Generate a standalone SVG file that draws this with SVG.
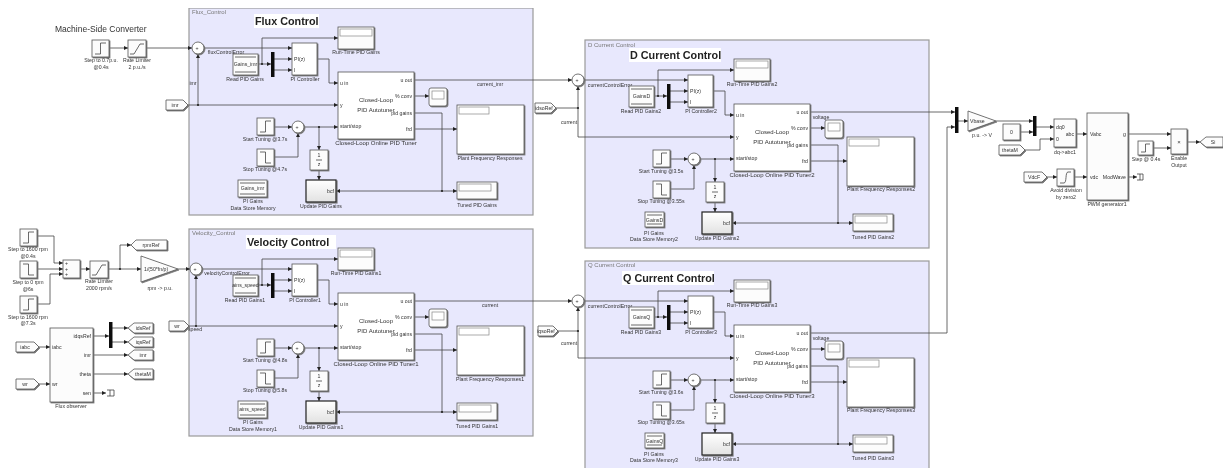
<svg xmlns="http://www.w3.org/2000/svg" width="1224" height="468" viewBox="0 0 1224 468">
<style>
text{font-family:"Liberation Sans",Arial,sans-serif;fill:#333;font-size:6px}
.l{text-anchor:middle}
.r{text-anchor:end}
.s{font-size:5.2px}
.w{fill:none;stroke:#444;stroke-width:.8;marker-end:url(#a)}
.n{fill:none;stroke:#444;stroke-width:.8}
.p{fill:#e8e8fd;stroke:#9a9a9a;stroke-width:1.2}
.pt{font-size:6px;fill:#777}
.tb{fill:#fff}
.t{font-size:10.800px;font-weight:bold;fill:#222}
.b{fill:#fff;stroke:#555;stroke-width:.8;filter:url(#sh)}
.g{fill:#fcfcfc;stroke:#555;stroke-width:.8;filter:url(#sh)}
.i{fill:#fff;stroke:#888;stroke-width:.7}
.m{fill:#111}
.j{fill:#222}
</style>
<defs>
<marker id="a" viewBox="0 0 6 6" refX="6" refY="3" markerWidth="4.2" markerHeight="4.2" markerUnits="userSpaceOnUse" orient="auto"><path d="M0 0L6 3L0 6z" fill="#222"/></marker>
<filter id="sh" x="-20%" y="-20%" width="150%" height="150%"><feDropShadow dx="1" dy="1" stdDeviation=".4" flood-color="#777"/></filter>
<filter id="bl" x="0" y="0" width="100%" height="100%"><feGaussianBlur stdDeviation=".35"/></filter>
<linearGradient id="ug" x1="0" y1="0" x2="0" y2="1"><stop offset="0" stop-color="#fff"/><stop offset="1" stop-color="#e2e2e2"/></linearGradient>
<g id="su"><rect class="g" width="17" height="17"/><path class="n" stroke-width="1" d="M3 14H8.500V3H14"/></g>
<g id="sd"><rect class="g" width="17" height="17"/><path class="n" d="M3 3H8.500V14H14"/></g>
<g id="rl"><rect class="g" width="18" height="17"/><path class="n" d="M2 14H6L12 4H16"/></g>
<g id="disp"><rect class="g" width="36" height="22"/><rect class="i" x="2" y="2" width="32" height="7"/></g>
<g id="tuned"><rect class="g" width="40" height="17"/><rect class="i" x="2" y="2" width="32" height="7"/></g>
<g id="plant"><rect class="b" width="67" height="49"/><rect class="i" x="2" y="2" width="30" height="7"/></g>
<g id="scope"><rect class="g" rx="2" width="18" height="18"/><rect class="i" x="3" y="3" width="12" height="8"/></g>
<g id="upd"><rect width="30" height="22" fill="url(#ug)" stroke="#222" stroke-width="1.200" filter="url(#sh)"/></g>
<g id="z"><rect class="g" width="18" height="20"/><path class="n" d="M6 10H12"/></g>
</defs>
<rect width="1224" height="468" fill="#fff"/>
<g filter="url(#bl)">
<g id="panels">
<rect class="p" x="189" y="8" width="344" height="207"/><text class="pt" x="192" y="14">Flux_Control</text>
<rect class="p" x="189" y="229" width="344" height="207"/><text class="pt" x="192" y="235">Velocity_Control</text>
<rect class="p" x="585" y="40" width="344" height="208"/><text class="pt" x="588" y="47">D Current Control</text>
<rect class="p" x="585" y="261" width="344" height="208"/><text class="pt" x="588" y="267">Q Current Control</text>
<rect class="tb" x="254" y="14" width="65" height="14"/><text class="t" x="255" y="25">Flux Control</text>
<rect class="tb" x="246" y="235" width="90" height="14"/><text class="t" x="247" y="246">Velocity Control</text>
<rect class="tb" x="629" y="48" width="92" height="14"/><text class="t" x="630" y="59">D Current Control</text>
<rect class="tb" x="622" y="271" width="92" height="14"/><text class="t" x="623" y="282">Q Current Control</text>
</g>
<g id="connectors">
<path class="w" d="M110 48H128"/><path class="w" d="M146 48H192"/>
<path class="w" d="M204 48H292"/><path class="w" d="M258 64H271"/><path class="w" d="M262 64V38H338"/><path class="w" d="M274 59H292"/><path class="w" d="M274 70H292"/><path class="w" d="M317 59H329V83H338"/><path class="w" d="M188 105H338"/><path class="w" d="M198 105V54"/><path class="w" d="M274 127H292"/><path class="w" d="M274 157H298V133"/><path class="w" d="M304 127H338"/><path class="w" d="M319 127V150"/><path class="w" d="M319 170V180"/><path class="w" d="M414 96H429"/><path class="w" d="M414 129H457"/><path class="w" d="M414 113H442V191H457"/><path class="w" d="M442 191H336"/><path class="w" d="M414 80H572"/>
<path class="w" d="M202 269H292"/><path class="w" d="M258 285H271"/><path class="w" d="M262 285V259H338"/><path class="w" d="M274 280H292"/><path class="w" d="M274 291H292"/><path class="w" d="M317 280H329V304H338"/><path class="w" d="M189 326H338"/><path class="w" d="M196 326V275"/><path class="w" d="M274 348H292"/><path class="w" d="M274 378H298V354"/><path class="w" d="M304 348H338"/><path class="w" d="M319 348V371"/><path class="w" d="M319 391V401"/><path class="w" d="M414 317H429"/><path class="w" d="M414 350H457"/><path class="w" d="M414 334H442V412H457"/><path class="w" d="M442 412H336"/><path class="w" d="M414 301H572"/>
<path class="w" d="M584 80H688"/><path class="w" d="M654 96H667"/><path class="w" d="M658 96V70H734"/><path class="w" d="M670 91H688"/><path class="w" d="M670 102H688"/><path class="w" d="M713 91H725V115H734"/><path class="n" d="M556 108H578"/><path class="w" d="M578 137V86"/><path class="w" d="M578 137H734"/><path class="w" d="M670 159H688"/><path class="w" d="M670 189H694V165"/><path class="w" d="M700 159H734"/><path class="w" d="M715 159V182"/><path class="w" d="M715 202V212"/><path class="w" d="M810 128H825"/><path class="w" d="M810 161H847"/><path class="w" d="M810 145H838V223H853"/><path class="w" d="M838 223H732"/><path class="w" d="M810 112H955"/>
<path class="w" d="M584 301H688"/><path class="w" d="M654 317H667"/><path class="w" d="M658 317V291H734"/><path class="w" d="M670 312H688"/><path class="w" d="M670 323H688"/><path class="w" d="M713 312H725V336H734"/><path class="n" d="M558 331H578"/><path class="w" d="M578 358V307"/><path class="w" d="M578 358H734"/><path class="w" d="M670 380H688"/><path class="w" d="M670 410H694V386"/><path class="w" d="M700 380H734"/><path class="w" d="M715 380V403"/><path class="w" d="M715 423V433"/><path class="w" d="M810 349H825"/><path class="w" d="M810 382H847"/><path class="w" d="M810 366H838V444H853"/><path class="w" d="M838 444H732"/><path class="w" d="M810 333H947V127H955"/>
<path class="w" d="M958 121H968"/><path class="w" d="M996 121H1033"/><path class="w" d="M1020 132H1033"/><path class="w" d="M1036 127H1054"/><path class="w" d="M1025 150H1040V139H1054"/><path class="w" d="M1076 134H1087"/><path class="w" d="M1047 177H1057"/><path class="w" d="M1074 177H1087"/><path class="w" d="M1128 134H1171"/><path class="w" d="M1128 177H1137"/><path class="w" d="M1153 148H1171"/><path class="w" d="M1187 142H1200"/>
<path class="w" d="M37 236H54V263H63"/><path class="w" d="M37 269H63"/><path class="w" d="M37 304H50V274H63"/><path class="w" d="M80 269H90"/><path class="w" d="M108 269H141"/><path class="w" d="M120 269V245H131"/><path class="w" d="M178 269H190"/><path class="w" d="M39 347H50"/><path class="w" d="M39 384H50"/><path class="w" d="M93 336H109"/><path class="w" d="M112 328H128"/><path class="w" d="M112 342H128"/><path class="w" d="M93 355H128"/><path class="w" d="M93 374H128"/><path class="w" d="M93 393H106"/>
<circle class="j" cx="262" cy="64" r="1.100"/><circle class="j" cx="198" cy="105" r="1.100"/><circle class="j" cx="319" cy="127" r="1.100"/><circle class="j" cx="442" cy="191" r="1.100"/>
<circle class="j" cx="262" cy="285" r="1.100"/><circle class="j" cx="196" cy="326" r="1.100"/><circle class="j" cx="319" cy="348" r="1.100"/><circle class="j" cx="442" cy="412" r="1.100"/>
<circle class="j" cx="658" cy="96" r="1.100"/><circle class="j" cx="578" cy="108" r="1.100"/><circle class="j" cx="715" cy="159" r="1.100"/><circle class="j" cx="838" cy="223" r="1.100"/>
<circle class="j" cx="658" cy="317" r="1.100"/><circle class="j" cx="578" cy="331" r="1.100"/><circle class="j" cx="715" cy="380" r="1.100"/><circle class="j" cx="838" cy="444" r="1.100"/>
<circle class="j" cx="120" cy="269" r="1.100"/>
<text class="s l" x="193" y="85">imr</text><text class="s l" x="226" y="54">fluxControlError</text><text class="s l" x="490" y="86">current_imr</text>
<text class="s l" x="195" y="331">speed</text><text class="s l" x="227" y="275">velocityControlError</text><text class="s l" x="490" y="307">current</text>
<text class="s l" x="610" y="87">currentControlError</text><text class="s l" x="569" y="124">current</text><text class="s l" x="821" y="119">voltage</text>
<text class="s l" x="610" y="308">currentControlError</text><text class="s l" x="569" y="345">current</text><text class="s l" x="821" y="340">voltage</text>
</g>

<g id="machine-title"><text x="55" y="32" style="font-size:8.500px">Machine-Side Converter</text></g>
<g id="step-07"><use href="#su" x="92" y="40"/><text class="s l" x="101" y="62">Step to 0.7p.u.</text><text class="s l" x="101" y="69">@0.4s</text></g>
<g id="rate-limiter"><use href="#rl" x="128" y="40"/><text class="s l" x="137" y="62">Rate Limiter</text><text class="s l" x="137" y="69">2 p.u./s</text></g>
<g id="from-imr"><path class="g" d="M166 100H183L188 105L183 110H166z"/><text class="s l" x="175" y="107">imr</text></g>

<!-- Flux -->
<g id="flux-sum"><circle class="b" cx="198" cy="48" r="6"/><text class="s l" x="197" y="50">+</text></g>
<g id="flux-read"><rect class="g" x="233" y="54" width="25" height="21"/><path class="n" d="M235 57H256M235 72H256"/><text class="s l" x="245.500" y="66">Gains_imr</text><text class="s l" x="245" y="81">Read PID Gains</text></g>
<g id="flux-mux"><rect class="m" x="271" y="52" width="3.500" height="25"/></g>
<g id="flux-pi"><rect class="b" x="292" y="43" width="25" height="32"/><text class="s" x="294" y="61">PI(z)</text><text class="s" x="294" y="72">I</text><text class="s l" x="305" y="81">PI Controller</text></g>
<g id="flux-run"><use href="#disp" x="338" y="27"/><text class="s l" x="356" y="54">Run-Time PID Gains</text></g>
<g id="flux-tuner"><rect class="b" x="338" y="72" width="76" height="67"/><text class="l" x="376" y="102">Closed-Loop</text><text class="l" x="376" y="112">PID Autotuner</text><text class="s" x="340" y="85">u in</text><text class="s" x="340" y="107">y</text><text class="s" x="340" y="128">start/stop</text><text class="s r" x="412" y="82">u out</text><text class="s r" x="412" y="98">% conv</text><text class="s r" x="412" y="115">pid gains</text><text class="s r" x="412" y="131">frd</text><text class="l" x="376" y="145">Closed-Loop Online PID Tuner</text></g>
<g id="flux-scope"><use href="#scope" x="429" y="88"/></g>
<g id="flux-plant"><use href="#plant" x="457" y="105"/><text class="s l" x="490" y="160">Plant Frequency Responses</text></g>
<g id="flux-tuned"><use href="#tuned" x="457" y="182"/><text class="s l" x="477" y="207">Tuned PID Gains</text></g>
<g id="flux-update"><use href="#upd" x="306" y="180"/><text class="s r" x="334" y="193">bcf</text><text class="s l" x="321" y="208">Update PID Gains</text></g>
<g id="flux-z"><use href="#z" x="310" y="150"/><text class="s l" x="319" y="157">1</text><text class="s l" x="319" y="166">z</text></g>
<g id="flux-sum2"><circle class="b" cx="298" cy="127" r="6"/><text class="s l" x="297" y="129">+</text></g>
<g id="flux-start"><use href="#su" x="257" y="118"/><text class="s l" x="265" y="141">Start Tuning @3.7s</text></g>
<g id="flux-stop"><use href="#sd" x="257" y="149"/><text class="s l" x="265" y="171">Stop Tuning @4.7s</text></g>
<g id="flux-dsm"><rect class="g" x="238" y="180" width="29" height="17"/><path class="n" d="M240 183H265M240 194H265"/><text class="s l" x="252.500" y="190">Gains_imr</text><text class="s l" x="253" y="203">PI Gains</text><text class="s l" x="253" y="210">Data Store Memory</text></g>

<!-- Velocity -->
<g id="vel-sum"><circle class="b" cx="196" cy="269" r="6"/><text class="s l" x="195" y="271">+</text></g>
<g id="from-wr2"><path class="g" d="M169 321H184L189 326L184 331H169z"/><text class="s l" x="177" y="328">wr</text></g>
<g id="vel-read"><rect class="g" x="233" y="275" width="25" height="21"/><path class="n" d="M235 278H256M235 293H256"/><text class="s l" x="245.500" y="287">ains_speed</text><text class="s l" x="245" y="302">Read PID Gains1</text></g>
<g id="vel-mux"><rect class="m" x="271" y="273" width="3.500" height="25"/></g>
<g id="vel-pi"><rect class="b" x="292" y="264" width="25" height="32"/><text class="s" x="294" y="282">PI(z)</text><text class="s" x="294" y="293">I</text><text class="s l" x="305" y="302">PI Controller1</text></g>
<g id="vel-run"><use href="#disp" x="338" y="248"/><text class="s l" x="356" y="275">Run-Time PID Gains1</text></g>
<g id="vel-tuner"><rect class="b" x="338" y="293" width="76" height="67"/><text class="l" x="376" y="323">Closed-Loop</text><text class="l" x="376" y="333">PID Autotuner</text><text class="s" x="340" y="306">u in</text><text class="s" x="340" y="328">y</text><text class="s" x="340" y="349">start/stop</text><text class="s r" x="412" y="303">u out</text><text class="s r" x="412" y="319">% conv</text><text class="s r" x="412" y="336">pid gains</text><text class="s r" x="412" y="352">frd</text><text class="l" x="376" y="366">Closed-Loop Online PID Tuner1</text></g>
<g id="vel-scope"><use href="#scope" x="429" y="309"/></g>
<g id="vel-plant"><use href="#plant" x="457" y="326"/><text class="s l" x="490" y="381">Plant Frequency Responses1</text></g>
<g id="vel-tuned"><use href="#tuned" x="457" y="403"/><text class="s l" x="477" y="428">Tuned PID Gains1</text></g>
<g id="vel-update"><use href="#upd" x="306" y="401"/><text class="s r" x="334" y="414">bcf</text><text class="s l" x="321" y="429">Update PID Gains1</text></g>
<g id="vel-z"><use href="#z" x="310" y="371"/><text class="s l" x="319" y="378">1</text><text class="s l" x="319" y="387">z</text></g>
<g id="vel-sum2"><circle class="b" cx="298" cy="348" r="6"/><text class="s l" x="297" y="350">+</text></g>
<g id="vel-start"><use href="#su" x="257" y="339"/><text class="s l" x="265" y="362">Start Tuning @4.8s</text></g>
<g id="vel-stop"><use href="#sd" x="257" y="370"/><text class="s l" x="265" y="392">Stop Tuning @5.8s</text></g>
<g id="vel-dsm"><rect class="g" x="238" y="401" width="29" height="17"/><path class="n" d="M240 404H265M240 415H265"/><text class="s l" x="252.500" y="411">ains_speed</text><text class="s l" x="253" y="424">PI Gains</text><text class="s l" x="253" y="431">Data Store Memory1</text></g>

<!-- D -->
<g id="d-sum"><circle class="b" cx="578" cy="80" r="6"/><text class="s l" x="577" y="82">+</text></g>
<g id="from-ids"><path class="g" d="M535 103H551L556 108L551 113H535z"/><text class="s l" x="544" y="110">idsoRef</text></g>
<g id="d-read"><rect class="g" x="629" y="86" width="25" height="21"/><path class="n" d="M631 89H652M631 104H652"/><text class="s l" x="641.500" y="98">GainsD</text><text class="s l" x="641" y="113">Read PID Gains2</text></g>
<g id="d-mux"><rect class="m" x="667" y="84" width="3.500" height="25"/></g>
<g id="d-pi"><rect class="b" x="688" y="75" width="25" height="32"/><text class="s" x="690" y="93">PI(z)</text><text class="s" x="690" y="104">I</text><text class="s l" x="701" y="113">PI Controller2</text></g>
<g id="d-run"><use href="#disp" x="734" y="59"/><text class="s l" x="752" y="86">Run-Time PID Gains2</text></g>
<g id="d-tuner"><rect class="b" x="734" y="104" width="76" height="67"/><text class="l" x="772" y="134">Closed-Loop</text><text class="l" x="772" y="144">PID Autotuner</text><text class="s" x="736" y="117">u in</text><text class="s" x="736" y="139">y</text><text class="s" x="736" y="160">start/stop</text><text class="s r" x="808" y="114">u out</text><text class="s r" x="808" y="130">% conv</text><text class="s r" x="808" y="147">pid gains</text><text class="s r" x="808" y="163">frd</text><text class="l" x="772" y="177">Closed-Loop Online PID Tuner2</text></g>
<g id="d-scope"><use href="#scope" x="825" y="120"/></g>
<g id="d-plant"><use href="#plant" x="847" y="137"/><text class="s l" x="881" y="191">Plant Frequency Responses2</text></g>
<g id="d-tuned"><use href="#tuned" x="853" y="214"/><text class="s l" x="873" y="239">Tuned PID Gains2</text></g>
<g id="d-update"><use href="#upd" x="702" y="212"/><text class="s r" x="730" y="225">bcf</text><text class="s l" x="717" y="240">Update PID Gains2</text></g>
<g id="d-z"><use href="#z" x="706" y="182"/><text class="s l" x="715" y="189">1</text><text class="s l" x="715" y="198">z</text></g>
<g id="d-sum2"><circle class="b" cx="694" cy="159" r="6"/><text class="s l" x="693" y="161">+</text></g>
<g id="d-start"><use href="#su" x="653" y="150"/><text class="s l" x="661" y="173">Start Tuning @3.5s</text></g>
<g id="d-stop"><use href="#sd" x="653" y="181"/><text class="s l" x="661" y="203">Stop Tuning @3.55s</text></g>
<g id="d-dsm"><rect class="g" x="645" y="212" width="19" height="15"/><path class="n" d="M647 215H662M647 224H662"/><text class="s l" x="654.500" y="221.500">GainsD</text><text class="s l" x="654" y="235">PI Gains</text><text class="s l" x="654" y="241">Data Store Memory2</text></g>

<!-- Q -->
<g id="q-sum"><circle class="b" cx="578" cy="301" r="6"/><text class="s l" x="577" y="303">+</text></g>
<g id="from-iqs"><path class="g" d="M538 326H553L558 331L553 336H538z"/><text class="s l" x="546" y="333">iqsoRef</text></g>
<g id="q-read"><rect class="g" x="629" y="307" width="25" height="21"/><path class="n" d="M631 310H652M631 325H652"/><text class="s l" x="641.500" y="319">GainsQ</text><text class="s l" x="641" y="334">Read PID Gains3</text></g>
<g id="q-mux"><rect class="m" x="667" y="305" width="3.500" height="25"/></g>
<g id="q-pi"><rect class="b" x="688" y="296" width="25" height="32"/><text class="s" x="690" y="314">PI(z)</text><text class="s" x="690" y="325">I</text><text class="s l" x="701" y="334">PI Controller3</text></g>
<g id="q-run"><use href="#disp" x="734" y="280"/><text class="s l" x="752" y="307">Run-Time PID Gains3</text></g>
<g id="q-tuner"><rect class="b" x="734" y="325" width="76" height="67"/><text class="l" x="772" y="355">Closed-Loop</text><text class="l" x="772" y="365">PID Autotuner</text><text class="s" x="736" y="338">u in</text><text class="s" x="736" y="360">y</text><text class="s" x="736" y="381">start/stop</text><text class="s r" x="808" y="335">u out</text><text class="s r" x="808" y="351">% conv</text><text class="s r" x="808" y="368">pid gains</text><text class="s r" x="808" y="384">frd</text><text class="l" x="772" y="398">Closed-Loop Online PID Tuner3</text></g>
<g id="q-scope"><use href="#scope" x="825" y="341"/></g>
<g id="q-plant"><use href="#plant" x="847" y="358"/><text class="s l" x="881" y="412">Plant Frequency Responses3</text></g>
<g id="q-tuned"><use href="#tuned" x="853" y="435"/><text class="s l" x="873" y="460">Tuned PID Gains3</text></g>
<g id="q-update"><use href="#upd" x="702" y="433"/><text class="s r" x="730" y="446">bcf</text><text class="s l" x="717" y="461">Update PID Gains3</text></g>
<g id="q-z"><use href="#z" x="706" y="403"/><text class="s l" x="715" y="410">1</text><text class="s l" x="715" y="419">z</text></g>
<g id="q-sum2"><circle class="b" cx="694" cy="380" r="6"/><text class="s l" x="693" y="382">+</text></g>
<g id="q-start"><use href="#su" x="653" y="371"/><text class="s l" x="661" y="394">Start Tuning @3.6s</text></g>
<g id="q-stop"><use href="#sd" x="653" y="402"/><text class="s l" x="661" y="424">Stop Tuning @3.65s</text></g>
<g id="q-dsm"><rect class="g" x="645" y="433" width="19" height="15"/><path class="n" d="M647 436H662M647 445H662"/><text class="s l" x="654.500" y="442.500">GainsQ</text><text class="s l" x="654" y="456">PI Gains</text><text class="s l" x="654" y="462">Data Store Memory3</text></g>

<!-- Left bottom -->
<g id="step-1600a"><use href="#su" x="20" y="229"/><text class="s l" x="28" y="251">Step to 1600 rpm</text><text class="s l" x="28" y="258">@0.4s</text></g>
<g id="step-0"><use href="#sd" x="20" y="261"/><text class="s l" x="28" y="284">Step to 0 rpm</text><text class="s l" x="28" y="291">@6s</text></g>
<g id="step-1600b"><use href="#su" x="20" y="296"/><text class="s l" x="28" y="319">Step to 1600 rpm</text><text class="s l" x="28" y="325">@7.3s</text></g>
<g id="adder"><rect class="g" x="63" y="260" width="17" height="18"/><text class="s" x="65" y="265">+</text><text class="s" x="65" y="271">+</text><text class="s" x="65" y="276">+</text></g>
<g id="rate-limiter2"><use href="#rl" x="90" y="261"/><text class="s l" x="99" y="283">Rate Limiter</text><text class="s l" x="99" y="290">2000 rpm/s</text></g>
<g id="goto-rpm"><path class="g" d="M131 245L136 240H167V250H136z"/><text class="s l" x="151" y="247">rpmRef</text></g>
<g id="gain-rpm"><path class="g" d="M141 256L178 269L141 282z"/><text class="s" x="144" y="271">1/(50*fn/p)</text><text class="s l" x="160" y="290">rpm -&gt; p.u.</text></g>
<g id="from-iabc"><path class="g" d="M16 342H34L39 347L34 352H16z"/><text class="s l" x="25" y="349">iabc</text></g>
<g id="from-wr"><path class="g" d="M16 379H34L39 384L34 389H16z"/><text class="s l" x="25" y="386">wr</text></g>
<g id="observer"><rect class="g" x="50" y="328" width="43" height="74"/><text class="s" x="52" y="349">iabc</text><text class="s" x="52" y="386">wr</text><text class="s r" x="91" y="338">idqsRef</text><text class="s r" x="91" y="357">imr</text><text class="s r" x="91" y="376">theta</text><text class="s r" x="91" y="395">sen</text><text class="s l" x="71" y="408">Flux observer</text></g>
<g id="obs-mux"><rect class="m" x="109" y="322" width="3.500" height="26"/></g>
<g id="goto-ids"><path class="g" d="M128 328L134 323H153V333H134z"/><text class="s l" x="143" y="330">idsRef</text></g>
<g id="goto-iqs"><path class="g" d="M128 342L134 337H153V347H134z"/><text class="s l" x="143" y="344">iqsRef</text></g>
<g id="goto-imr"><path class="g" d="M128 355L134 350H153V360H134z"/><text class="s l" x="143" y="357">imr</text></g>
<g id="goto-theta"><path class="g" d="M128 374L134 369H153V379H134z"/><text class="s l" x="143" y="376">thetaM</text></g>
<g id="term-obs"><path class="n" d="M107 390H114V396H107M110 390V396"/></g>

<!-- Right -->
<g id="mux-vd"><rect class="m" x="955" y="107" width="3.500" height="26"/></g>
<g id="gain-vbase"><path class="g" d="M968 111L996 121L968 131z"/><text class="s" x="970" y="123">Vbase</text><text class="s l" x="982" y="137">p.u. -&gt; V</text></g>
<g id="mux-dq"><rect class="m" x="1033" y="116" width="3.500" height="20"/></g>
<g id="const-0"><rect class="g" x="1003" y="124" width="17" height="16"/><text class="s l" x="1011.500" y="134">0</text></g>
<g id="from-theta"><path class="g" d="M999 145H1020L1025 150L1020 155H999z"/><text class="s l" x="1010" y="152">thetaM</text></g>
<g id="dq-abc"><rect class="g" x="1054" y="119" width="22" height="28"/><text class="s" x="1056" y="129">dq0</text><text class="s r" x="1074" y="136">abc</text><text class="s" x="1056" y="141">0</text><text class="s l" x="1065" y="154">dq-&gt;abc1</text></g>
<g id="from-vdc"><path class="g" d="M1024 172H1042L1047 177L1042 182H1024z"/><text class="s l" x="1034" y="179">VdcF</text></g>
<g id="sat"><rect class="g" x="1057" y="169" width="17" height="17"/><path class="n" d="M1060 183H1064C1067 183 1065 172 1068 172H1071"/><text class="s l" x="1066" y="192">Avoid division</text><text class="s l" x="1066" y="199">by zero2</text></g>
<g id="pwm"><rect class="g" x="1087" y="113" width="41" height="87"/><text class="s" x="1090" y="136">Vabc</text><text class="s" x="1090" y="179">vdc</text><text class="s r" x="1126" y="136">g</text><text class="s r" x="1126" y="179">ModWave</text><text class="s l" x="1107" y="206">PWM generator1</text></g>
<g id="term-pwm"><path class="n" d="M1137 174H1143V180H1137M1140 174V180"/></g>
<g id="step-enable"><rect class="g" x="1138" y="141" width="15" height="14"/><path class="n" d="M1141 152H1145.500V144H1150"/><text class="s l" x="1146" y="161">Step @ 0.4s</text></g>
<g id="product"><rect class="g" x="1171" y="129" width="16" height="25"/><text class="l" x="1179" y="144">×</text><text class="s l" x="1179" y="160">Enable</text><text class="s l" x="1179" y="167">Output</text></g>
<g id="goto-si"><path class="g" d="M1200 142L1206 137H1223V147H1206z"/><text class="s l" x="1213" y="144">Si</text></g>
</g>
</svg>
